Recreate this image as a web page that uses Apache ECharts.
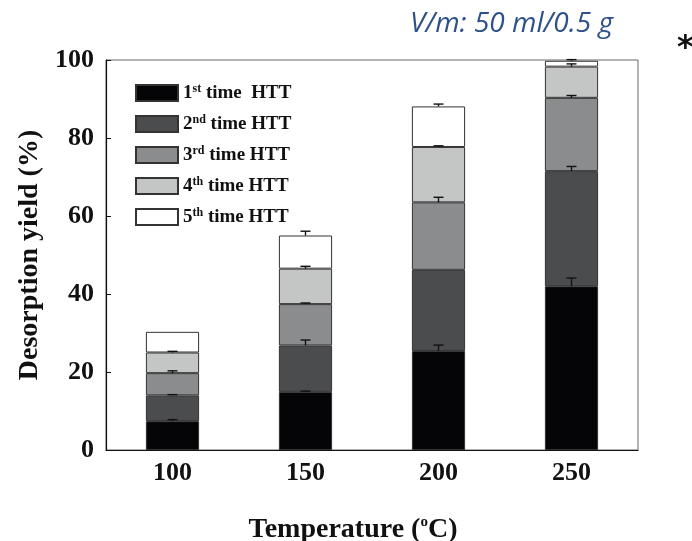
<!DOCTYPE html>
<html>
<head>
<meta charset="utf-8">
<script src="https://cdn.jsdelivr.net/npm/echarts@6/dist/echarts.min.js"></script>
<style>html,body{margin:0;padding:0;background:#fff;}#c{width:692px;height:541px;}</style>
</head>
<body>
<div id="c"></div>
<script>
var categories = ['100', '150', '200', '250'];
var seriesNames = ['1st time  HTT', '2nd time HTT', '3rd time HTT', '4th time HTT', '5th time HTT'];
var supText = ['st', 'nd', 'rd', 'th', 'th'];
var restText = [' time  HTT', ' time HTT', ' time HTT', ' time HTT', ' time HTT'];
var leadText = ['1', '2', '3', '4', '5'];
// increments per heat treatment (stacked)
var htt1 = [7.4, 14.9, 25.4, 42.0];
var htt2 = [6.6, 11.9, 20.8, 29.5];
var htt3 = [5.7, 10.6, 17.3, 18.8];
var htt4 = [5.3, 9.1, 14.2, 8.0];
var htt5 = [5.3, 8.5, 10.4, 1.5];
// upper error bars at the top of each segment
var err1 = [0.4, 0.2, 1.5, 2.1];
var err2 = [0.2, 1.4, 0.0, 1.2];
var err3 = [0.6, 0.3, 1.3, 0.6];
var err4 = [0.3, 0.6, 0.3, 0.7];
var err5 = [0.0, 1.1, 0.6, 0.3];
var yTicks = [0, 20, 40, 60, 80, 100];

var colors = ['#050508', '#4b4c4e', '#8b8c8e', '#c4c5c5', '#ffffff'];
var incs = [htt1, htt2, htt3, htt4, htt5];
var errs = [err1, err2, err3, err4, err5];

var series = [];
incs.forEach(function (d, i) {
  series.push({
    name: seriesNames[i],
    type: 'bar',
    stack: 'total',
    barWidth: '40%',
    data: d,
    itemStyle: { color: colors[i], borderColor: '#333', borderWidth: 1 }
  });
});
var errData = [];
for (var c = 0; c < categories.length; c++) {
  var cum = 0;
  for (var s = 0; s < incs.length; s++) {
    cum += incs[s][c];
    if (errs[s][c] > 0) errData.push([c, cum, errs[s][c]]);
  }
}
series.push({
  type: 'custom',
  name: 'err',
  data: errData,
  z: 10,
  renderItem: function (params, api) {
    var x = api.value(0), top = api.value(1), e = api.value(2);
    var p0 = api.coord([x, top]);
    var p1 = api.coord([x, top + e]);
    var hw = 5;
    return {
      type: 'group',
      children: [
        { type: 'line', shape: { x1: p0[0], y1: p0[1], x2: p1[0], y2: p1[1] }, style: { stroke: '#111', lineWidth: 1.4 } },
        { type: 'line', shape: { x1: p1[0] - hw, y1: p1[1], x2: p1[0] + hw, y2: p1[1] }, style: { stroke: '#111', lineWidth: 1.4 } }
      ]
    };
  }
});

var serif = '"Liberation Serif", "DejaVu Serif", serif';
var chart = echarts.init(document.getElementById('c'), null, { renderer: 'canvas' });
chart.setOption({
  animation: false,
  backgroundColor: '#fff',
  title: {
    text: 'V/m: 50 ml/0.5 g',
    left: 405, top: 5,
    textStyle: { fontFamily: '"Open Sans", Lato, sans-serif', fontStyle: 'italic', fontWeight: 'normal', fontSize: 28, color: '#2f5189' }
  },
  graphic: [{
    type: 'text', left: 677, top: 33,
    style: { text: '*', font: 'bold 32px "DejaVu Sans", sans-serif', fill: '#111' }
  }],
  legend: {
    orient: 'vertical',
    left: 130, top: 78,
    itemWidth: 42, itemHeight: 16, itemGap: 10,
    data: seriesNames,
    icon: 'rect',
    formatter: function (name) {
      var i = seriesNames.indexOf(name);
      return '{b|' + leadText[i] + '}{s|' + supText[i] + '}{b|' + restText[i] + '}';
    },
    textStyle: {
      fontFamily: serif,
      rich: {
        b: { fontFamily: serif, fontWeight: 'bold', fontSize: 19, color: '#111', lineHeight: 20, verticalAlign: 'bottom' },
        s: { fontFamily: serif, fontWeight: 'bold', fontSize: 12, color: '#111', lineHeight: 20, verticalAlign: 'top', padding: [0, 0, 9, 0] }
      }
    }
  },
  grid: { left: 106, right: 54, top: 60, bottom: 91, show: true, borderColor: '#666', borderWidth: 1, outerBoundsMode: 'none', containLabel: false },
  xAxis: {
    type: 'category',
    data: categories,
    axisLine: { lineStyle: { color: '#111', width: 1.2 } },
    axisTick: { show: false },
    axisLabel: { fontFamily: serif, fontWeight: 'bold', fontSize: 26, color: '#111', margin: 10 },
    name: '{b|Temperature (}{s|o}{b|C)}',
    nameLocation: 'middle',
    nameGap: 65,
    nameTextStyle: {
      padding: [0, 38, 0, 0],
      rich: {
        b: { fontFamily: serif, fontWeight: 'bold', fontSize: 28, color: '#111', lineHeight: 30 },
        s: { fontFamily: serif, fontWeight: 'bold', fontSize: 15, color: '#111', lineHeight: 30, verticalAlign: 'top' }
      }
    }
  },
  yAxis: {
    type: 'value',
    min: 0, max: 100, interval: 20,
    axisLine: { show: true, lineStyle: { color: '#111', width: 1.2 } },
    axisTick: { show: true, inside: true, length: 5, lineStyle: { color: '#111' } },
    splitLine: { show: false },
    axisLabel: {
      fontFamily: serif, fontWeight: 'bold', fontSize: 26, color: '#111', margin: 12,
      formatter: function (v) { return yTicks.indexOf(v) >= 0 ? String(v) : ''; }
    },
    name: 'Desorption yield (%)',
    nameLocation: 'middle',
    nameGap: 60,
    nameTextStyle: { fontFamily: serif, fontWeight: 'bold', fontSize: 28, color: '#111' }
  },
  series: series
});
</script>
</body>
</html>
